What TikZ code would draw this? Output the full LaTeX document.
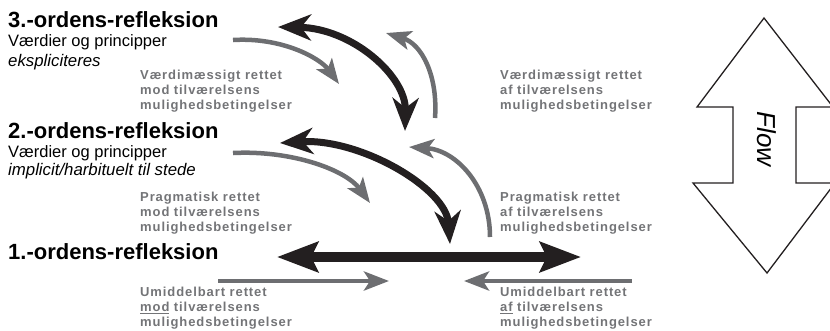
\documentclass[tikz,border=0pt]{standalone}
\usepackage{fontspec}
\setmainfont{Liberation Sans}
\newfontfamily\spacedfont[LetterSpace=7]{Liberation Sans}
\usetikzlibrary{arrows.meta,positioning}
\definecolor{ink}{RGB}{35,31,32}
\definecolor{cool}{RGB}{109,110,113}
\definecolor{labelgray}{RGB}{115,116,119}

\begin{document}
\begin{tikzpicture}[x=1pt,y=-1pt,
    ordre/.style={anchor=base west,inner sep=0pt,font=\fontsize{22}{26}\selectfont\bfseries},
    sub/.style={anchor=base west,inner sep=0pt,align=left,font=\fontsize{16.5}{19}\selectfont},
    kursiv/.style={font=\fontsize{16.8}{19}\selectfont\itshape},
    note/.style={anchor=base west,inner sep=0pt,align=left,text=labelgray,font=\fontsize{13}{15}\spacedfont\bfseries},
    bigpil/.style={draw=ink,line width=7pt,arrows={Stealth[length=33pt,width=26pt,inset=10pt]-Stealth[length=33pt,width=26pt,inset=10pt]}},
    fladpil/.style={draw=ink,line width=10pt,arrows={Stealth[length=41pt,width=30pt,inset=7pt]-Stealth[length=41pt,width=30pt,inset=7pt]}},
    graapil/.style={draw=cool,line width=4.5pt,arrows={-Stealth[length=25pt,width=19pt,inset=6pt]}}]
    \useasboundingbox (0,0) rectangle (830,330);
    \clip (0,0) rectangle (830,330);

    % niveauer
    \node[ordre] (o3) at (8,27.5) {3.-ordens-refleksion};
    \node[sub] (s3) at (8,46) {Værdier og principper};
    \node[sub,kursiv] (k3) at (8,66.5) {ekspliciteres};
    \node[ordre] (o2) at (8,138) {2.-ordens-refleksion};
    \node[sub] (s2) at (8,157) {Værdier og principper};
    \node[sub,kursiv] (k2) at (8,175.5) {implicit/harbituelt til stede};
    \node[ordre] (o1) at (8,259) {1.-ordens-refleksion};

    % retninger
    \node[note] (vm) at (140,109) {Værdimæssigt rettet\\mod tilværelsens\\mulighedsbetingelser};
    \node[note] (va) at (500,109) {Værdimæssigt rettet\\af tilværelsens\\mulighedsbetingelser};
    \node[note] (pm) at (140,231) {Pragmatisk rettet\\mod tilværelsens\\mulighedsbetingelser};
    \node[note] (pa) at (500,231) {Pragmatisk rettet\\af tilværelsens\\mulighedsbetingelser};
    \node[note] (um) at (140,326.5) {Umiddelbart rettet\\\underline{mod} tilværelsens\\mulighedsbetingelser};
    \node[note] (ua) at (500,326.5) {Umiddelbart rettet\\\underline{af} tilværelsens\\mulighedsbetingelser};

    % endepunkter
    \coordinate (v3a) at (278,27);   \coordinate (v3b) at (405,131);
    \coordinate (p2a) at (280,143);  \coordinate (p2b) at (450,244);
    \coordinate (u1a) at (277,257);  \coordinate (u1b) at (581,257);
    \coordinate (gm3) at (233,40);   \coordinate (gm3e) at (339,84);
    \coordinate (ga3) at (435,118);  \coordinate (ga3e) at (386,33);
    \coordinate (gm2) at (233,153);  \coordinate (gm2e) at (370,203);
    \coordinate (ga2) at (490,237);  \coordinate (ga2e) at (409,147);
    \coordinate (gm1) at (218,281);  \coordinate (gm1e) at (389,281);
    \coordinate (ga1) at (632,281);  \coordinate (ga1e) at (464,281);

    \draw[bigpil] (v3a) .. controls (352,28) and (406,76) .. (v3b);
    \draw[bigpil] (p2a) .. controls (360,138) and (446,188) .. (p2b);
    \draw[fladpil] (u1a) -- (u1b);

    \draw[graapil] (gm3) .. controls (282,37) and (320,58) .. (gm3e);
    \draw[graapil] (ga3) .. controls (438,76) and (422,44) .. (ga3e);
    \draw[graapil] (gm2) .. controls (292,150) and (346,170) .. (gm2e);
    \draw[graapil] (ga2) .. controls (490,186) and (456,150) .. (ga2e);
    \draw[graapil] (gm1) -- (gm1e);
    \draw[graapil] (ga1) -- (ga1e);

    % flow-pil
    \draw[ink,line width=1.3pt,line join=miter]
      (764,18) -- (833,107) -- (796,107) -- (796,183) -- (835,183) -- (767,273)
      -- (693,183) -- (733,183) -- (733,107) -- (697,107) -- cycle;
    \node[rotate=-90,font=\fontsize{26}{30}\selectfont\itshape] (flow) at (767,139) {Flow};
\end{tikzpicture}
\end{document}
